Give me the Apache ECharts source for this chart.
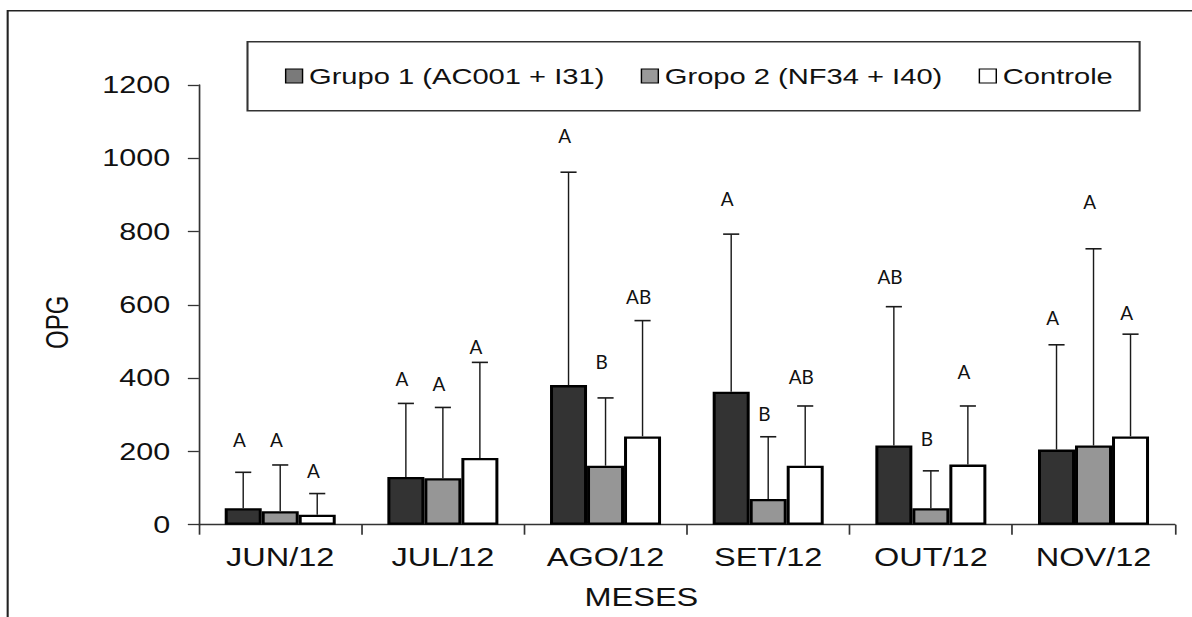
<!DOCTYPE html>
<html>
<head>
<meta charset="utf-8">
<script src="https://cdn.jsdelivr.net/npm/echarts@6/dist/echarts.min.js"></script>
<style>
html,body{margin:0;padding:0;background:#fff;overflow:hidden;}
#wrap{width:1192px;height:617px;overflow:hidden;position:relative;}
#chart{width:917px;height:617px;transform:scaleX(1.2999);transform-origin:0 0;}
</style>
</head>
<body>
<div id="wrap"><div id="chart"></div></div>
<script>
// ---- data ----
const categories = ['JUN/12', 'JUL/12', 'AGO/12', 'SET/12', 'OUT/12', 'NOV/12'];
const seriesNames = ['Grupo 1 (AC001 + I31)', 'Gropo 2 (NF34 + I40)', 'Controle'];
const grupo1 = [45, 130, 381, 363, 216, 205];
const grupo2 = [37, 127, 161, 70, 45, 216];
const controle = [27, 182, 241, 161, 164, 241];
// upper ends of the error bars
const grupo1Upper = [143, 331, 962, 793, 595, 491];
const grupo2Upper = [163, 320, 346, 240, 147, 753];
const controleUpper = [85, 443, 557, 324, 324, 520];
// significance letters and the value height at which each is written
const grupo1Letters = ['A', 'A', 'A', 'A', 'AB', 'A'];
const grupo2Letters = ['A', 'A', 'B', 'B', 'B', 'A'];
const controleLetters = ['A', 'A', 'AB', 'AB', 'A', 'A'];
const grupo1LetterAt = [233, 400, 1061, 891, 677, 566];
const grupo2LetterAt = [233, 386, 445, 304, 236, 883];
const controleLetterAt = [147, 486, 622, 404, 418, 580];
const yTicks = [0, 200, 400, 600, 800, 1000, 1200];

// ---- drawing ----
const S = 1.2999;           // horizontal stretch of the whole picture
const BAR_FRAC = 0.2275;    // bar width as fraction of category band
const colors = ['#333333', '#969696', '#ffffff'];
const legendColors = ['#7a7a7a', '#999999', '#ffffff'];

const chart = echarts.init(document.getElementById('chart'), null, {renderer: 'svg'});

function barSeries(i, data) {
  return {
    type: 'bar', name: seriesNames[i], data: data,
    barWidth: (BAR_FRAC * 100) + '%', barGap: '0%',
    itemStyle: {color: colors[i], borderColor: '#000', borderWidth: 2.3},
    z: 2
  };
}

function errSeries(gi, vals, upper, letters, letterAt) {
  return {
    type: 'custom', name: 'err' + gi, z: 5, silent: true,
    data: categories.map((c, i) => [i, vals[i], upper[i], letterAt[i]]),
    renderItem: function (params, api) {
      const i = api.value(0);
      const band = api.size([1, 0])[0];
      const dx = (gi - 1) * band * BAR_FRAC;
      const p0 = api.coord([i, api.value(1)]);
      const p1 = api.coord([i, api.value(2)]);
      const pl = api.coord([i, api.value(3)]);
      const x = p0[0] + dx;
      const cap = 6.2;
      return {
        type: 'group',
        children: [
          {type: 'line', shape: {x1: x, y1: p0[1], x2: x, y2: p1[1]}, style: {stroke: '#1a1a1a', lineWidth: 1.1}},
          {type: 'line', shape: {x1: x - cap, y1: p1[1], x2: x + cap, y2: p1[1]}, style: {stroke: '#1a1a1a', lineWidth: 1.6}},
          {type: 'text', x: x - 3, y: pl[1], scaleX: 1 / S,
           style: {text: letters[params.dataIndex], fill: '#111', font: '19px Lato, "Open Sans", sans-serif',
                   align: 'center', verticalAlign: 'middle'}}
        ]
      };
    }
  };
}

const option = {
  animation: false,
  backgroundColor: '#fff',
  grid: {left: 153, right: 13.2, top: 85, bottom: 92.3, containLabel: false},
  legend: {
    left: 219.2, top: 65, padding: 0,
    itemWidth: 13, itemHeight: 14, itemGap: 28,
    icon: 'rect',
    textStyle: {fontSize: 22.4, color: '#111', fontFamily: '"Liberation Sans", Arial, sans-serif'},
    data: seriesNames.map((n, i) => ({name: n, itemStyle: {color: legendColors[i], borderColor: '#000', borderWidth: 1.1}}))
  },
  xAxis: {
    type: 'category', data: categories,
    axisLine: {lineStyle: {color: '#333', width: 1.3}},
    axisTick: {show: true, length: 10, lineStyle: {color: '#333', width: 1.3}},
    axisLabel: {fontSize: 25, color: '#111', margin: 20, fontFamily: '"Liberation Sans", Arial, sans-serif'},
    name: 'MESES', nameLocation: 'middle', nameGap: 60,
    nameTextStyle: {fontSize: 25, color: '#111', fontFamily: '"Liberation Sans", Arial, sans-serif', padding: [0, 70, 0, 0]}
  },
  yAxis: {
    type: 'value', min: yTicks[0], max: yTicks[yTicks.length - 1], interval: yTicks[1] - yTicks[0],
    splitLine: {show: false},
    axisLine: {show: true, lineStyle: {color: '#333', width: 1.3}},
    axisTick: {show: true, length: 8.5, lineStyle: {color: '#333', width: 1.3}},
    axisLabel: {fontSize: 23.5, color: '#111', margin: 22, fontFamily: '"Liberation Sans", Arial, sans-serif',
                formatter: function (v) { return String(v); }},
    name: 'OPG', nameLocation: 'middle', nameGap: 97, nameRotate: 90,
    nameTextStyle: {fontSize: 24, color: '#111', fontFamily: '"Liberation Sans", Arial, sans-serif', padding: [0, 35, 0, 0]}
  },
  graphic: [
    {type: 'polyline', silent: true, shape: {points: [[5.9, 700], [5.9, 10.7], [1000, 10.7]]},
     style: {stroke: '#222', fill: null, lineWidth: 1.6}},
    {type: 'rect', silent: true, shape: {x: 190.4, y: 41.7, width: 686.3, height: 69},
     style: {stroke: '#333', fill: 'none', lineWidth: 1.6}}
  ],
  series: [
    barSeries(0, grupo1), barSeries(1, grupo2), barSeries(2, controle),
    errSeries(0, grupo1, grupo1Upper, grupo1Letters, grupo1LetterAt),
    errSeries(1, grupo2, grupo2Upper, grupo2Letters, grupo2LetterAt),
    errSeries(2, controle, controleUpper, controleLetters, controleLetterAt)
  ]
};
chart.setOption(option);
</script>
</body>
</html>
